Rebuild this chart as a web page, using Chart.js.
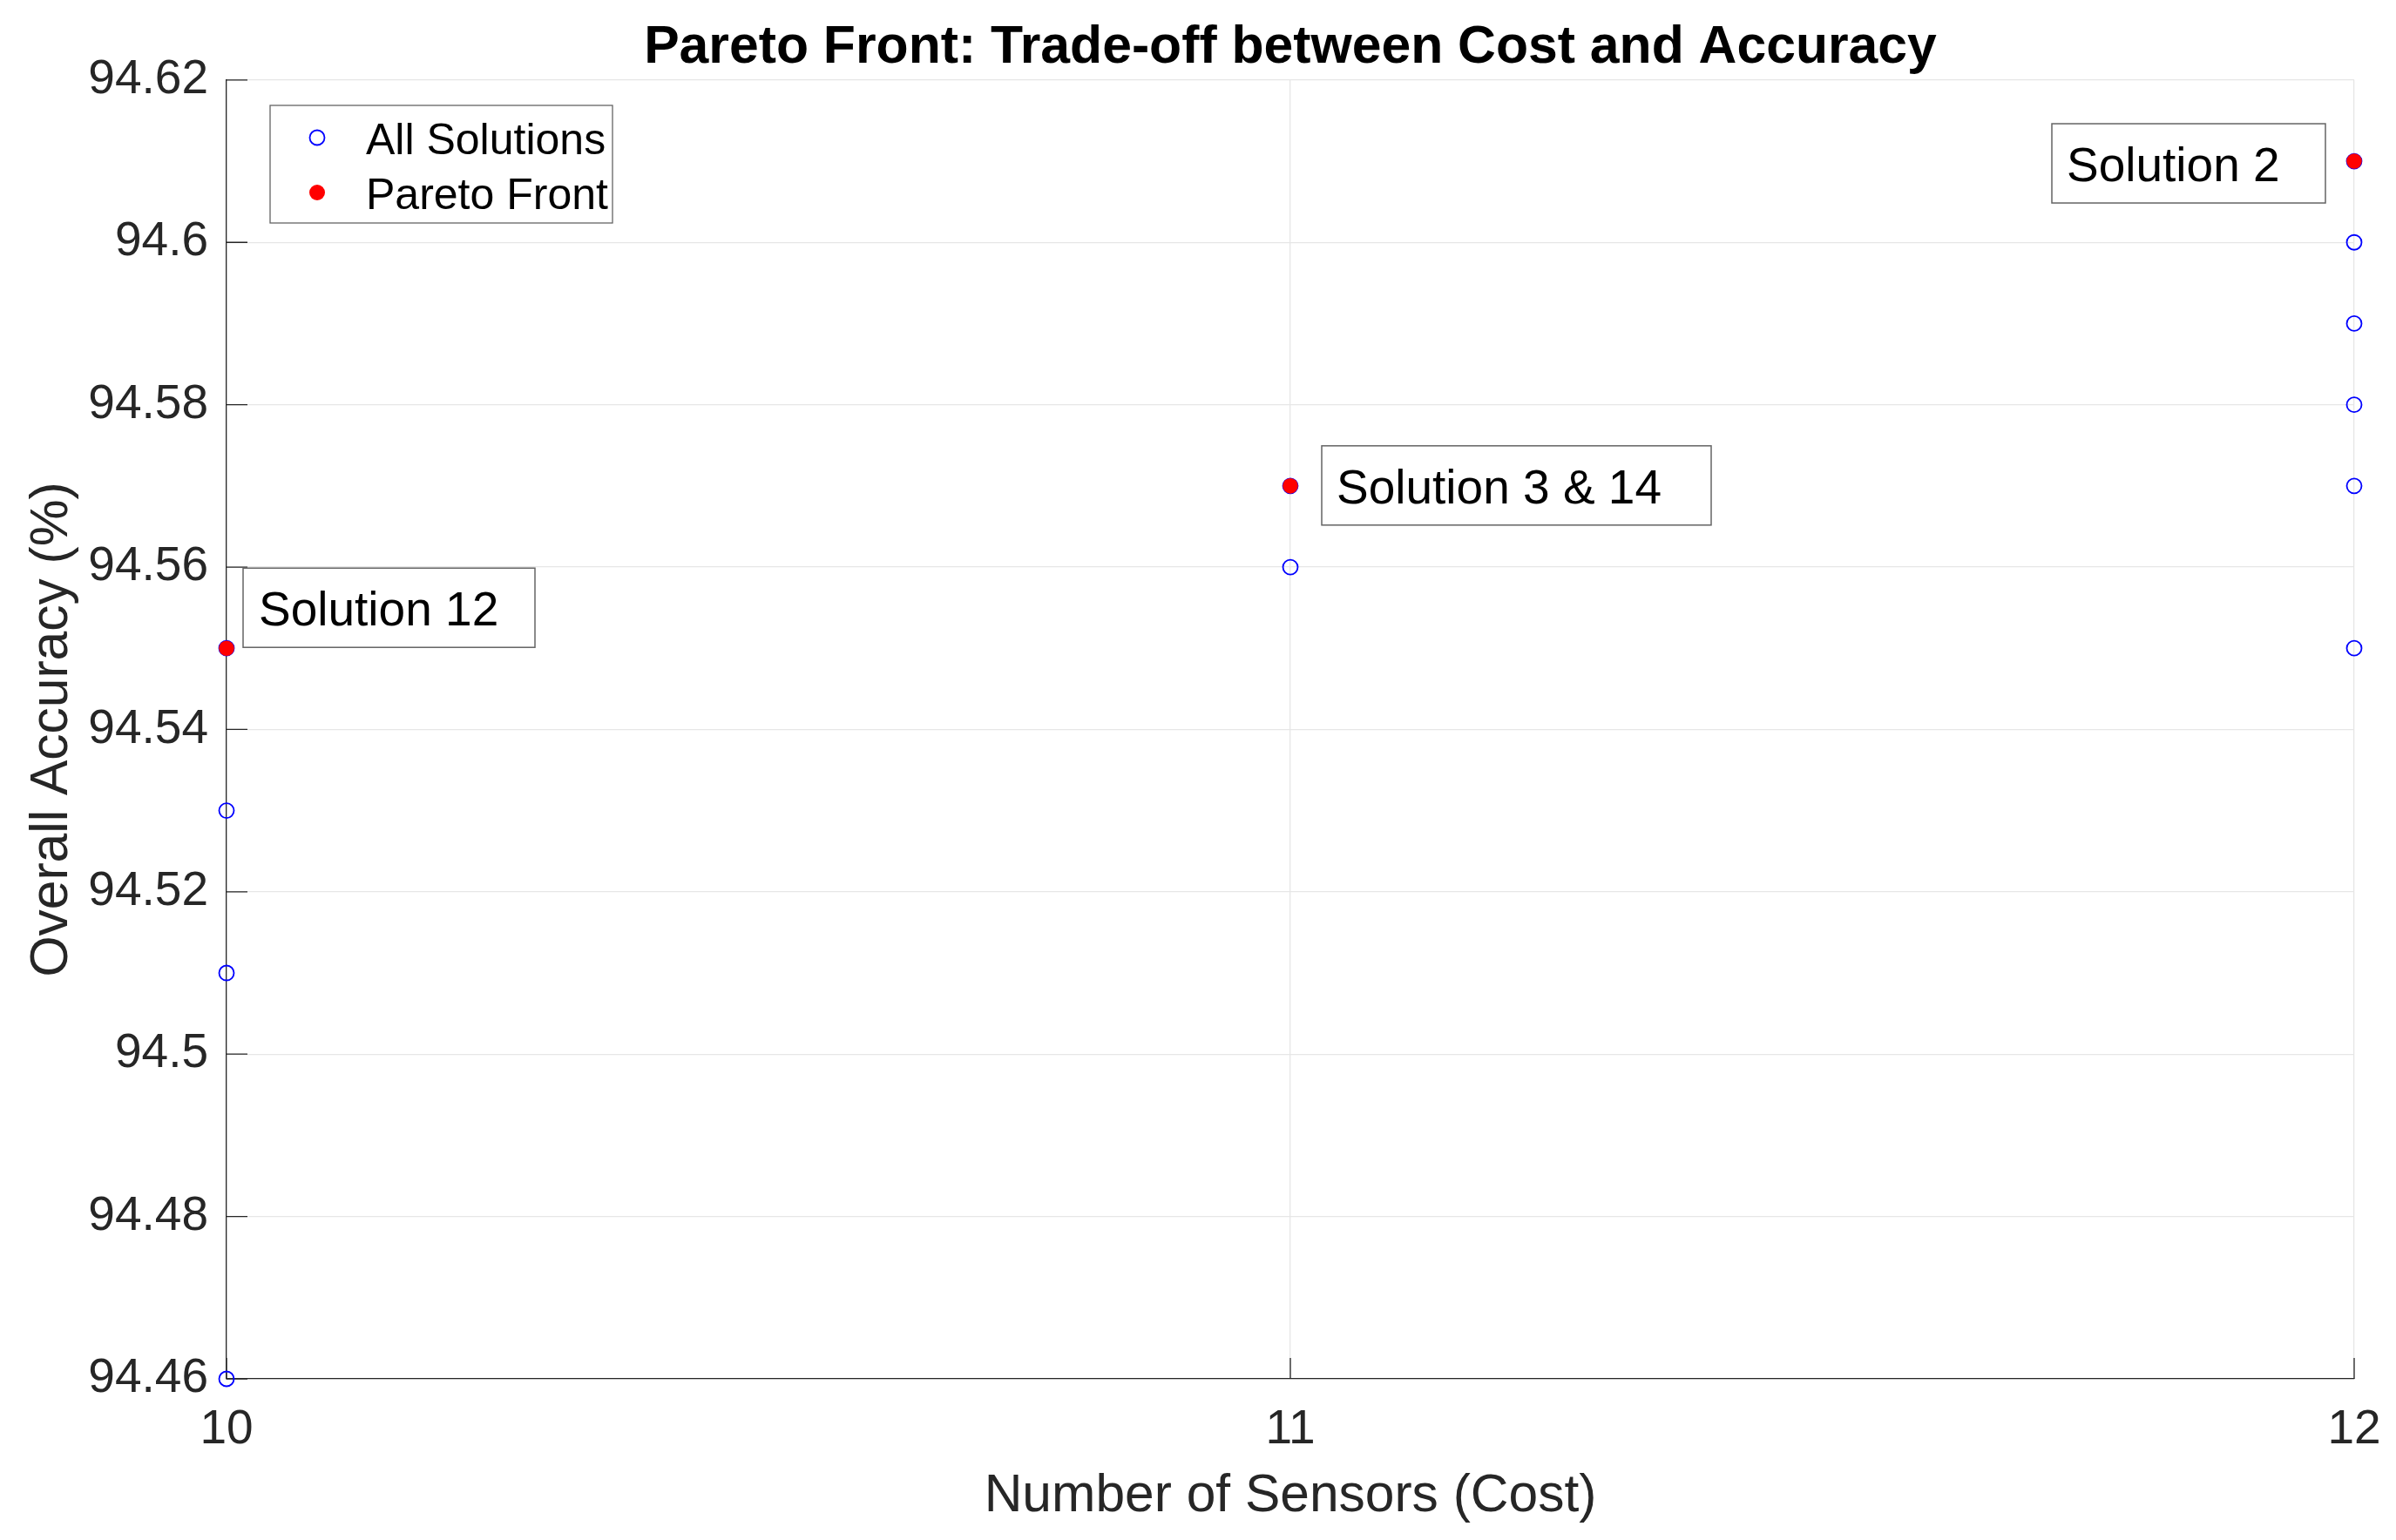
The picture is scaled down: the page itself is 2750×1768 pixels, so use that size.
<html>
<head>
    <script src="https://cdn.jsdelivr.net/npm/chart.js"></script>
    <style>
        body { margin: 0; background: #fff; }
        #wrap { width: 2750px; height: 1768px; }
    </style>
</head>
<body>
    <div id="wrap"><canvas id="myChart"></canvas></div>

    <script>
        // data
        const allX = [10, 10, 10, 10, 11, 11, 12, 12, 12, 12, 12, 12];
        const allY = [94.46, 94.51, 94.53, 94.55, 94.56, 94.57, 94.55, 94.57, 94.58, 94.59, 94.60, 94.61];
        const paretoX = [10, 11, 12];
        const paretoY = [94.55, 94.57, 94.61];
        const paretoNames = ['Solution 12', 'Solution 3 & 14', 'Solution 2'];
        const xTicks = [10, 11, 12];
        const xTickLabels = ['10', '11', '12'];
        const yTicks = [94.46, 94.48, 94.50, 94.52, 94.54, 94.56, 94.58, 94.60, 94.62];
        const yTickLabels = ['94.46', '94.48', '94.5', '94.52', '94.54', '94.56', '94.58', '94.6', '94.62'];

        const FONT = "'Liberation Sans', Arial, Helvetica, sans-serif";

        // text box placement relative to its point (px)
        const boxStyle = [
            { dx: 19, dy: -92, w: 335, pad: 18 },
            { dx: 36, dy: -46, w: 447, pad: 17 },
            { dx: -347, dy: -43, w: 314, pad: 17 }
        ];

        const decor = {
            id: 'decor',
            beforeDatasetsDraw(chart) {
                const { ctx, chartArea: a, scales: { x, y } } = chart;
                ctx.save();
                ctx.strokeStyle = '#262626';
                ctx.lineWidth = 1.3;
                ctx.beginPath();
                // inward ticks like matlab
                y.ticks.forEach(t => {
                    const py = y.getPixelForValue(t.value);
                    ctx.moveTo(a.left, py);
                    ctx.lineTo(a.left + 24, py);
                });
                x.ticks.forEach(t => {
                    const px = x.getPixelForValue(t.value);
                    ctx.moveTo(px, a.bottom);
                    ctx.lineTo(px, a.bottom - 24);
                });
                ctx.stroke();
                ctx.restore();
            },
            afterDatasetsDraw(chart) {
                const { ctx, scales: { x, y } } = chart;
                ctx.save();

                // annotations
                ctx.font = '55px ' + FONT;
                ctx.textBaseline = 'alphabetic';
                paretoNames.forEach((name, i) => {
                    const s = boxStyle[i];
                    const px = x.getPixelForValue(paretoX[i]);
                    const py = y.getPixelForValue(paretoY[i]);
                    const bx = px + s.dx, by = py + s.dy;
                    ctx.fillStyle = '#fff';
                    ctx.fillRect(bx, by, s.w, 91);
                    ctx.strokeStyle = '#646464';
                    ctx.lineWidth = 1.5;
                    ctx.strokeRect(bx, by, s.w, 91);
                    ctx.fillStyle = '#000';
                    ctx.fillText(name, bx + s.pad, by + 66);
                });

                // legend
                const lx = 310, ly = 121, lw = 393, lh = 135;
                ctx.fillStyle = '#fff';
                ctx.fillRect(lx, ly, lw, lh);
                ctx.strokeStyle = '#646464';
                ctx.lineWidth = 1.3;
                ctx.strokeRect(lx, ly, lw, lh);

                ctx.beginPath();
                ctx.arc(364, 158, 8.5, 0, Math.PI * 2);
                ctx.strokeStyle = '#0000ff';
                ctx.lineWidth = 1.8;
                ctx.stroke();

                ctx.beginPath();
                ctx.arc(364, 221, 9, 0, Math.PI * 2);
                ctx.fillStyle = '#ff0000';
                ctx.fill();

                ctx.fillStyle = '#000';
                ctx.font = '50px ' + FONT;
                ctx.fillText(chart.data.datasets[0].label, 420, 177);
                ctx.fillText(chart.data.datasets[1].label, 420, 240);
                ctx.restore();
            }
        };

        const ctx = document.getElementById('myChart').getContext('2d');
        const myChart = new Chart(ctx, {
            type: 'scatter',
            data: {
                datasets: [
                    {
                        label: 'All Solutions',
                        data: allX.map((v, i) => ({ x: v, y: allY[i] })),
                        pointRadius: 8.5,
                        pointBorderWidth: 1.8,
                        pointBorderColor: '#0000ff',
                        pointBackgroundColor: 'rgba(0,0,0,0)',
                        order: 1,
                        clip: false
                    },
                    {
                        label: 'Pareto Front',
                        data: paretoX.map((v, i) => ({ x: v, y: paretoY[i] })),
                        pointRadius: 8.8,
                        pointBorderWidth: 0,
                        pointBorderColor: '#ff0000',
                        pointBackgroundColor: '#ff0000',
                        order: 0,
                        clip: false
                    }
                ]
            },
            options: {
                responsive: true,
                maintainAspectRatio: false,
                animation: false,
                layout: { padding: { left: 0, top: 0, right: 48, bottom: 0 } },
                plugins: {
                    legend: { display: false },
                    tooltip: { enabled: false },
                    title: {
                        display: true,
                        fullSize: false,
                        text: 'Pareto Front: Trade-off between Cost and Accuracy',
                        color: '#000',
                        font: { family: FONT, size: 60.7, weight: 'bold', lineHeight: 1.2 },
                        padding: { top: 19, bottom: 0 }
                    }
                },
                scales: {
                    x: {
                        type: 'linear',
                        min: 10,
                        max: 12,
                        afterBuildTicks: s => { s.ticks = xTicks.map(v => ({ value: v })); },
                        afterFit: s => { s.height = 185; s.paddingLeft = 0; s.paddingRight = 0; },
                        ticks: {
                            callback: (v, i) => xTickLabels[i],
                            color: '#262626',
                            font: { family: FONT, size: 55 },
                            padding: 26,
                            maxRotation: 0,
                            autoSkip: false
                        },
                        grid: { color: '#e6e6e6', lineWidth: 1.3, drawTicks: false },
                        border: { color: '#262626', width: 1.3 },
                        title: {
                            display: true,
                            text: 'Number of Sensors (Cost)',
                            color: '#262626',
                            font: { family: FONT, size: 60.5, lineHeight: 1.2 },
                            padding: { top: 0, bottom: 13 }
                        }
                    },
                    y: {
                        type: 'linear',
                        min: 94.46,
                        max: 94.62,
                        afterBuildTicks: s => { s.ticks = yTicks.map(v => ({ value: v })); },
                        afterFit: s => { s.width = 260; s.paddingTop = 0; s.paddingBottom = 0; },
                        ticks: {
                            callback: (v, i) => yTickLabels[i],
                            color: '#262626',
                            font: { family: FONT, size: 55 },
                            padding: 21,
                            autoSkip: false
                        },
                        grid: { color: '#e6e6e6', lineWidth: 1.3, drawTicks: false },
                        border: { color: '#262626', width: 1.3 },
                        title: {
                            display: true,
                            text: 'Overall Accuracy (%)',
                            color: '#262626',
                            font: { family: FONT, size: 60.5, lineHeight: 1.2 },
                            padding: { top: 24, bottom: 0 }
                        }
                    }
                }
            },
            plugins: [decor]
        });
    </script>
</body>
</html>
